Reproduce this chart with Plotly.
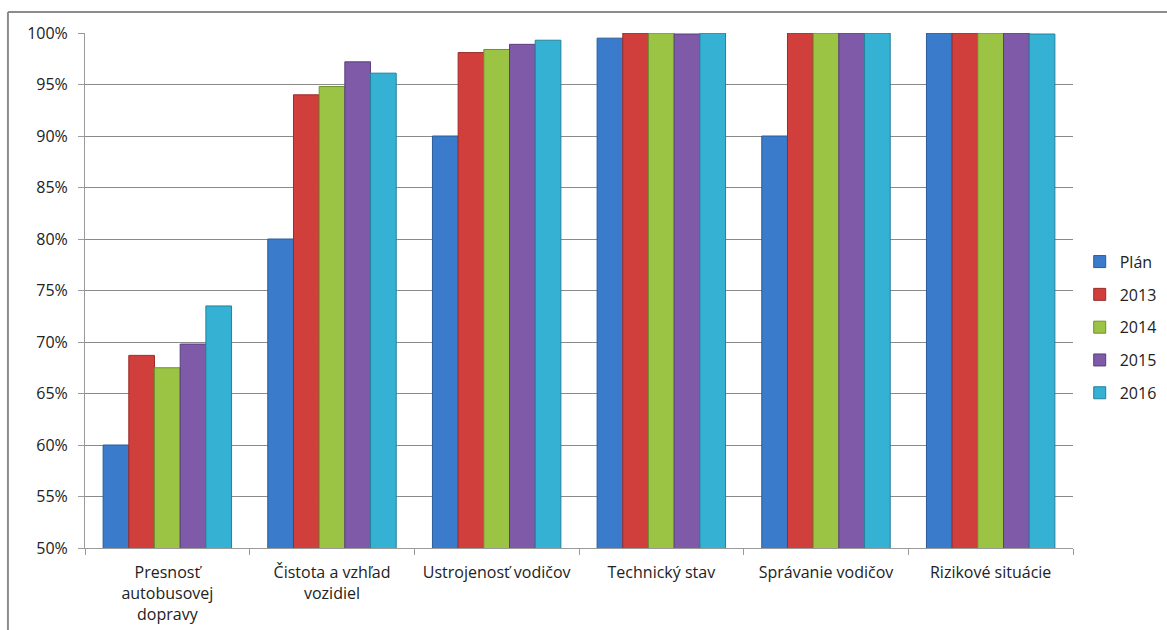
import plotly.graph_objects as go

categories = [
    "Presnosť<br>autobusovej<br>dopravy",
    "Čistota a vzhľad<br>vozidiel",
    "Ustrojenosť vodičov",
    "Technický stav",
    "Správanie vodičov",
    "Rizikové situácie",
]

plan = [60.0, 80.0, 90.0, 99.5, 90.0, 100.0]
y2013 = [68.7, 94.0, 98.1, 100.0, 100.0, 100.0]
y2014 = [67.5, 94.8, 98.4, 100.0, 100.0, 100.0]
y2015 = [69.8, 97.2, 98.9, 99.9, 100.0, 100.0]
y2016 = [73.5, 96.1, 99.3, 100.0, 100.0, 99.9]

tick_values = [50, 55, 60, 65, 70, 75, 80, 85, 90, 95, 100]
tick_labels = ["50%", "55%", "60%", "65%", "70%", "75%", "80%", "85%", "90%", "95%", "100%"]

series = [
    ("Plán", plan, "#3a7bcb", "#2a5c9a"),
    ("2013", y2013, "#d03f3b", "#9c2c29"),
    ("2014", y2014, "#9cc444", "#6f8f2e"),
    ("2015", y2015, "#7e5aa9", "#5a3f7c"),
    ("2016", y2016, "#35b1d3", "#23829c"),
]

FONT = "'Open Sans', Lato, sans-serif"
TEXT = "#222222"

fig = go.Figure()
for i, (name, vals, fill, edge) in enumerate(series):
    fig.add_trace(go.Bar(
        name=name,
        x=categories,
        y=vals,
        legendgroup=f"g{i}",
        marker=dict(color=fill, line=dict(color=edge, width=1)),
    ))

fig.update_layout(
    width=1167,
    height=630,
    barmode="group",
    bargap=0.22,
    bargroupgap=0,
    paper_bgcolor="white",
    plot_bgcolor="white",
    margin=dict(l=85, r=94, t=33, b=82, autoexpand=False),
    font=dict(family=FONT, size=16, color=TEXT),
    legend=dict(
        x=1.0068, xanchor="left",
        y=0.589, yanchor="top",
        font=dict(family=FONT, size=16, color=TEXT),
        tracegroupgap=9,
        itemwidth=30,
        bgcolor="rgba(0,0,0,0)",
    ),
    showlegend=True,
    shapes=[
        dict(type="line", xref="paper", yref="paper",
             x0=-0.078, x1=1.2, y0=1.0408, y1=1.0408,
             line=dict(color="#8c8c8c", width=2)),
        dict(type="line", xref="paper", yref="paper",
             x0=-0.078, x1=-0.078, y0=1.0408, y1=-0.3,
             line=dict(color="#8c8c8c", width=2)),
    ],
)

fig.update_xaxes(
    showline=True, linecolor="#9a9a9a", linewidth=1,
    ticks="outside", tickson="boundaries", ticklen=6, tickcolor="#9a9a9a",
    showgrid=False,
    tickfont=dict(family=FONT, size=16, color=TEXT),
    tickangle=0,
    ticklabelstandoff=10,
)

fig.update_yaxes(
    range=[50, 100],
    tickvals=tick_values,
    ticktext=tick_labels,
    showline=True, linecolor="#9a9a9a", linewidth=1,
    ticks="outside", ticklen=6, tickcolor="#9a9a9a",
    showgrid=True, gridcolor="#8a8a8a", gridwidth=1,
    zeroline=False,
    tickfont=dict(family=FONT, size=16, color=TEXT),
    ticklabelstandoff=7,
)

fig.write_html("out.html")
